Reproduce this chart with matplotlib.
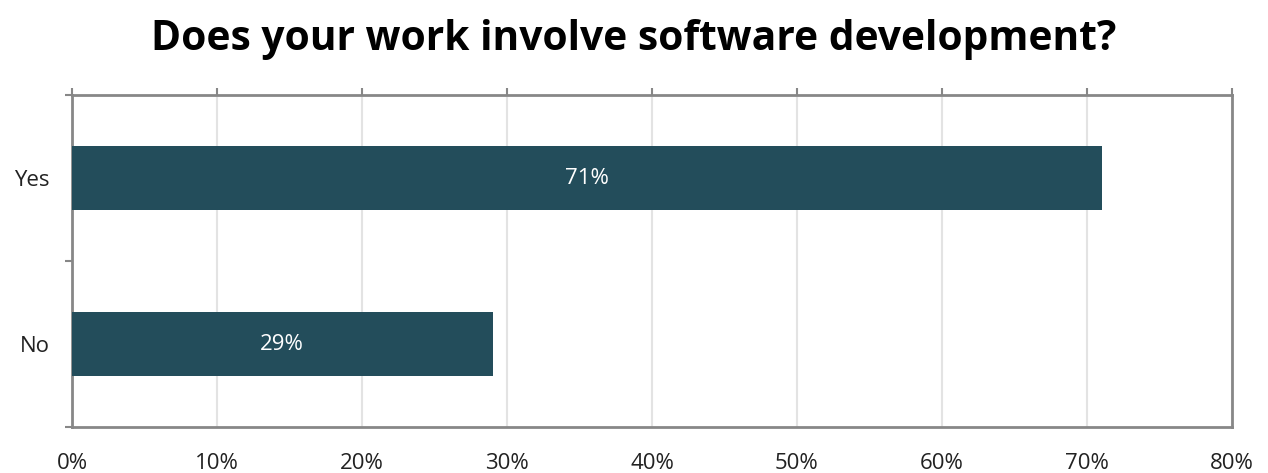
import matplotlib.pyplot as plt

categories = ["Yes", "No"]
values = [71, 29]
xticks = [0, 10, 20, 30, 40, 50, 60, 70, 80]

plt.rcParams['font.family'] = ['Open Sans', 'DejaVu Sans']

fig = plt.figure(figsize=(12.68, 4.73), dpi=100)
ax = fig.add_axes([72 / 1268, 46 / 473, 1160 / 1268, 332 / 473])

ypos = [1, 0]
bars = ax.barh(ypos, values, height=0.39, color='#234D5B', zorder=3)
for y, v in zip(ypos, values):
    ax.text(v / 2, y, f"{v}%", ha='center', va='center', color='white', fontsize=16, zorder=4)

ax.set_xlim(0, 80)
ax.set_ylim(-0.5, 1.5)
ax.set_xticks(xticks)
ax.set_xticklabels([f"{t}%" for t in xticks], fontsize=16, color='#222222')
ax.tick_params(axis='x', top=True, bottom=False, labeltop=False, labelbottom=True,
               direction='out', length=5, color='#878787', width=1.5, pad=14)
ax.set_yticks([-0.5, 0.5, 1.5])
ax.set_yticklabels([])
ax.set_yticks(ypos, minor=True)
ax.set_yticklabels(categories, minor=True, fontsize=16, color='#222222')
ax.tick_params(axis='y', which='major', direction='out', length=5, color='#878787', width=1.5)
ax.tick_params(axis='y', which='minor', length=0, pad=16)

ax.grid(axis='x', color='#E3E3E3', linewidth=1.5, zorder=0)
for s in ax.spines.values():
    s.set_color('#878787')
    s.set_linewidth(2)

fig.text(0.5, 1 - 40 / 473, "Does your work involve software development?", ha='center', va='center',
         fontsize=29.3, fontweight='bold', color='black')

fig.savefig('out.png', dpi=100)
